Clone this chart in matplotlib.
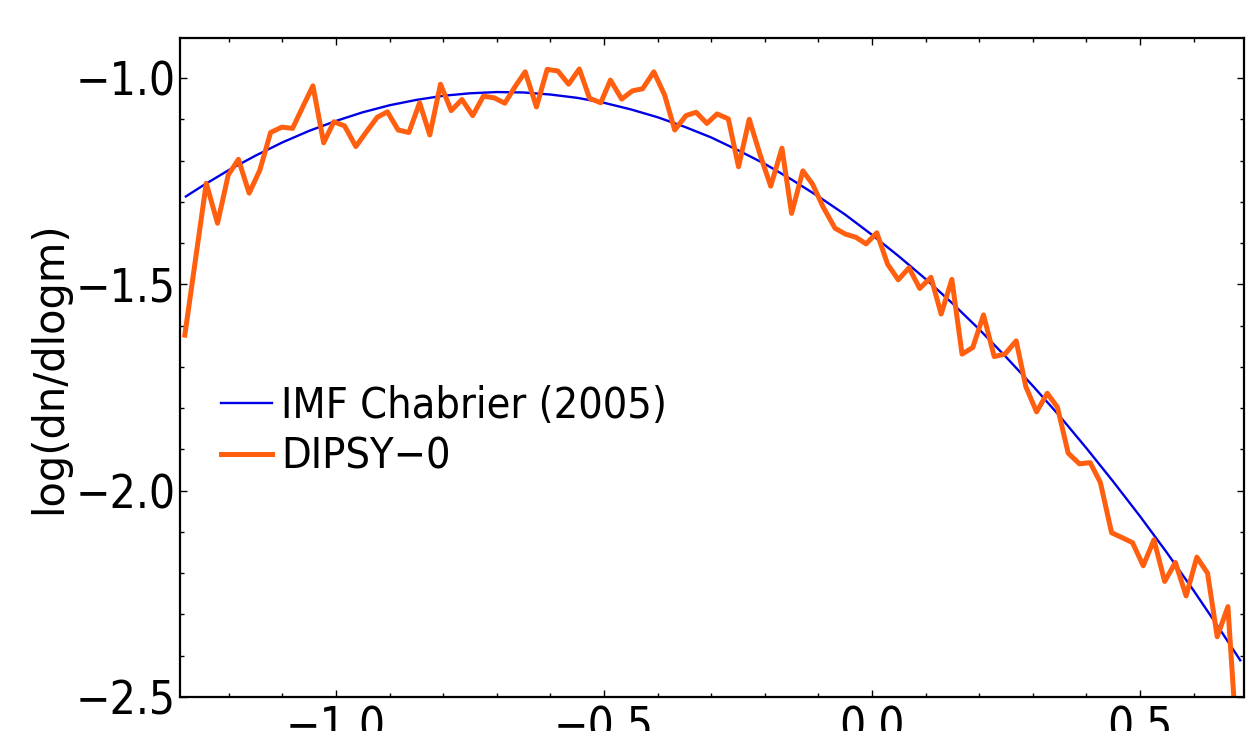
import matplotlib
matplotlib.use("Agg")
import matplotlib.pyplot as plt
from matplotlib.ticker import MultipleLocator

# IMF Chabrier (2005)
imf_logm = [-1.28, -1.25, -1.2, -1.15, -1.1, -1.05, -1.0, -0.95, -0.9, -0.85,
            -0.8, -0.75, -0.7, -0.65, -0.6, -0.55, -0.5, -0.45, -0.4, -0.35,
            -0.3, -0.25, -0.2, -0.15, -0.1, -0.05, 0.0, 0.05, 0.1, 0.15, 0.2,
            0.25, 0.3, 0.35, 0.4, 0.45, 0.5, 0.55, 0.6, 0.65, 0.687]
imf_logdn = [-1.287, -1.262, -1.223, -1.188, -1.156, -1.128, -1.104, -1.083,
             -1.066, -1.053, -1.043, -1.037, -1.034, -1.035, -1.040, -1.048,
             -1.060, -1.076, -1.095, -1.118, -1.144, -1.175, -1.208, -1.246,
             -1.287, -1.331, -1.380, -1.432, -1.487, -1.546, -1.609, -1.676,
             -1.746, -1.819, -1.897, -1.978, -2.062, -2.150, -2.242, -2.338,
             -2.411]

# DIPSY-0 histogram
dipsy_logm = [-1.282, -1.242, -1.221, -1.201, -1.182, -1.162, -1.142, -1.122,
              -1.101, -1.081, -1.062, -1.043, -1.023, -1.004, -0.984, -0.963,
              -0.943, -0.923, -0.904, -0.884, -0.864, -0.844, -0.825, -0.805,
              -0.785, -0.765, -0.745, -0.725, -0.705, -0.685, -0.666, -0.647,
              -0.626, -0.606, -0.586, -0.566, -0.546, -0.527, -0.506, -0.488,
              -0.467, -0.447, -0.428, -0.407, -0.387, -0.368, -0.347, -0.328,
              -0.308, -0.289, -0.268, -0.249, -0.229, -0.209, -0.189, -0.168,
              -0.150, -0.129, -0.111, -0.091, -0.069, -0.050, -0.030, -0.011,
              0.009, 0.029, 0.049, 0.069, 0.089, 0.110, 0.129, 0.149, 0.168,
              0.188, 0.208, 0.228, 0.248, 0.269, 0.287, 0.307, 0.327, 0.346,
              0.366, 0.387, 0.407, 0.426, 0.447, 0.467, 0.486, 0.506, 0.526,
              0.546, 0.566, 0.586, 0.606, 0.626, 0.644, 0.664, 0.684]
dipsy_logdn = [-1.623, -1.255, -1.352, -1.235, -1.197, -1.279, -1.223, -1.132,
               -1.119, -1.122, -1.070, -1.019, -1.157, -1.106, -1.116, -1.166,
               -1.130, -1.095, -1.082, -1.126, -1.132, -1.060, -1.138, -1.015,
               -1.079, -1.052, -1.091, -1.044, -1.048, -1.061, -1.021, -0.985,
               -1.070, -0.979, -0.983, -1.015, -0.978, -1.049, -1.060, -1.005,
               -1.051, -1.031, -1.026, -0.985, -1.041, -1.126, -1.091, -1.083,
               -1.110, -1.087, -1.099, -1.215, -1.100, -1.185, -1.262, -1.170,
               -1.328, -1.225, -1.257, -1.313, -1.364, -1.378, -1.386, -1.402,
               -1.375, -1.451, -1.489, -1.460, -1.510, -1.483, -1.572, -1.488,
               -1.669, -1.653, -1.574, -1.675, -1.669, -1.637, -1.748, -1.809,
               -1.764, -1.798, -1.909, -1.935, -1.932, -1.980, -2.102, -2.114,
               -2.126, -2.182, -2.119, -2.220, -2.174, -2.255, -2.161, -2.200,
               -2.354, -2.281, -2.680]

W, H = 1248, 731
fig = plt.figure(figsize=(W / 100, H / 100), dpi=100)
ax = fig.add_axes([180 / W, (H - 697) / H, (1244 - 180) / W, (697 - 38) / H])

ax.plot(imf_logm, imf_logdn, color="#0000e6", lw=1.7, label="IMF Chabrier (2005)")
ax.plot(dipsy_logm, dipsy_logdn, color="#ff5f0f", lw=3.6, label="DIPSY\u22120")

ax.set_xlim(-1.291, 0.694)
ax.set_ylim(-2.5, -0.903)

ax.xaxis.set_major_locator(MultipleLocator(0.5))
ax.xaxis.set_minor_locator(MultipleLocator(0.1))
ax.yaxis.set_major_locator(MultipleLocator(0.5))
ax.yaxis.set_minor_locator(MultipleLocator(0.1))
ax.tick_params(which="both", direction="in", top=True, right=True, width=1)
ax.tick_params(which="major", length=5)
ax.tick_params(which="minor", length=3)
ax.tick_params(axis="y", pad=3)
ax.tick_params(axis="x", pad=6)
for lab in ax.get_xticklabels() + ax.get_yticklabels():
    lab.set_fontsize(33)
    lab.set_fontstretch("condensed")
for s in ax.spines.values():
    s.set_linewidth(1.6)

ax.set_ylabel("log(dn/dlogm)", fontsize=30, labelpad=4)

leg = ax.legend(loc="upper left", bbox_to_anchor=(0.022, 0.499), frameon=False,
                prop={"size": 31, "stretch": "condensed"},
                handlelength=1.2, handletextpad=0.2, labelspacing=0.2,
                borderaxespad=0)

fig.savefig("out.png", dpi=100)
